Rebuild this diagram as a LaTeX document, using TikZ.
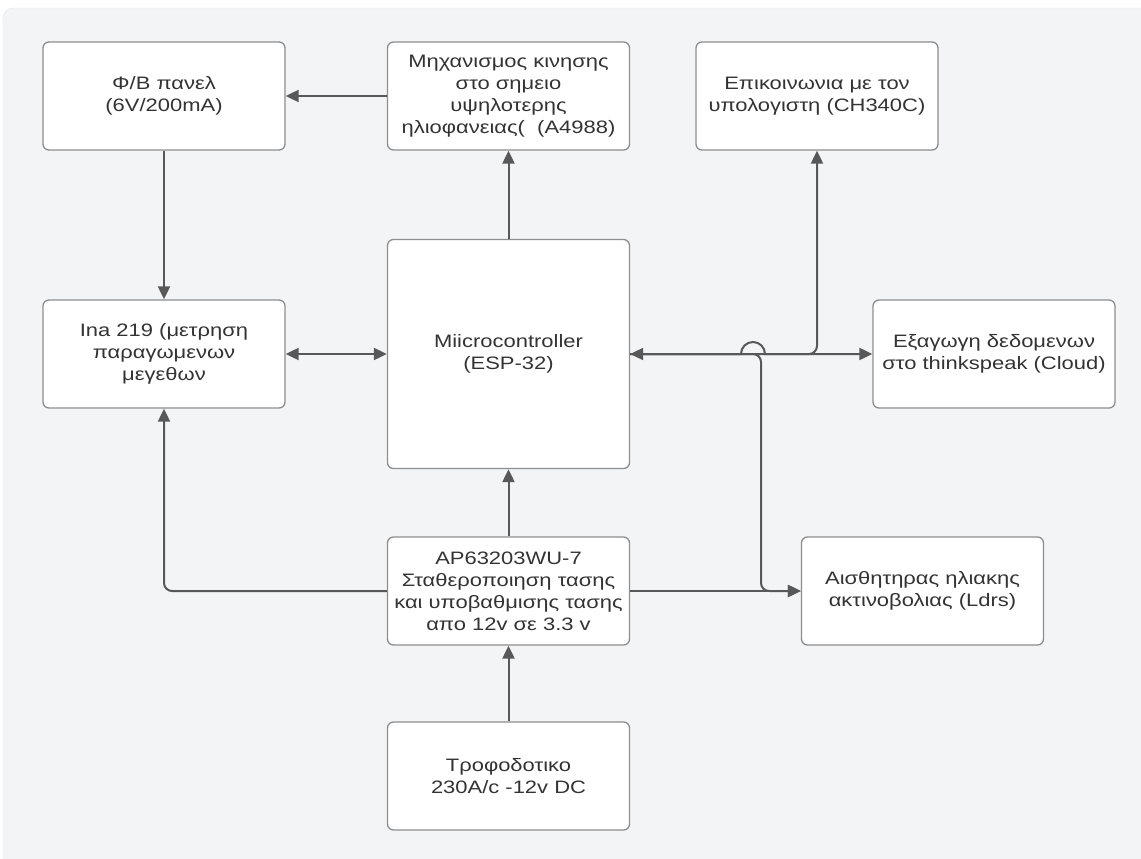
\documentclass[tikz,border=0pt]{standalone}
\usepackage{fontspec}
\setmainfont{Liberation Sans}[FakeStretch=1.22]
\usepackage{tikz}
\usetikzlibrary{arrows.meta,positioning}
\definecolor{panelgray}{HTML}{F3F4F6}
\definecolor{paneledge}{HTML}{E4E5E8}
\definecolor{boxedge}{HTML}{8E8E8E}
\definecolor{wiregray}{HTML}{585858}
\definecolor{textgray}{HTML}{333333}

\begin{document}
\begin{tikzpicture}[x=1pt, y=-1pt, font=\fontsize{18pt}{22pt}\selectfont]
   \clip (0,0) rectangle (1141,859);
   \fill[panelgray, draw=paneledge, rounded corners=10pt] (3,8) rectangle (1180,900);
   \begin{scope}[every node/.style={rectangle, rounded corners=6pt, draw=boxedge, line width=1.3pt,
        fill=white, text=textgray, align=center, minimum width=242pt, minimum height=108pt}]
    \node (pv)     at (164,96)    {Φ/Β πανελ\\(6V/200mA)};
    \node (motor)  at (508.5,96)  {Μηχανισμος κινησης\\στο σημειο\\υψηλοτερης\\ηλιοφανειας(\ \ (A4988)};
    \node (serial) at (817,96)    {Επικοινωνια με τον\\υπολογιστη (CH340C)};
    \node (ina)    at (164,354)   {Ina 219 (μετρηση\\παραγωμενων\\μεγεθων};
    \node (mcu) [minimum height=229pt] at (508.5,354) {Miicrocontroller\\(ESP-32)};
    \node (cloud)  at (994,354)   {Εξαγωγη δεδομενων\\στο thinkspeak (Cloud)};
    \node (buck)   at (508.5,591) {AP63203WU-7\\Σταθεροποιηση τασης\\και υποβαθμισης τασης\\απο 12v σε 3.3 v};
    \node (ldr)    at (922.5,591) {Αισθητηρας ηλιακης\\ακτινοβολιας (Ldrs)};
    \node (psu)    at (508.5,776) {Τροφοδοτικο\\230A/c -12v DC};
   \end{scope}
   \coordinate (hop) at (741,354);
   \coordinate (tap) at (761,591);
   \begin{scope}[draw=wiregray, line width=2pt, >={Triangle[length=13pt,width=12pt]}]
    \draw[->] (motor) -- (pv);
    \draw[->] (pv) -- (ina);
    \draw[<->] (ina) -- (mcu);
    \draw[->] (mcu) -- (motor);
    \draw[->, rounded corners=8pt] (mcu.east) -| (serial.south);
    \draw[->] (mcu.east) -- (hop) arc[start angle=180, end angle=0, radius=12pt] -- (cloud.west);
    \draw[<->, rounded corners=8pt] (mcu.east) -| (tap) -- (ldr.west);

    \draw[->] (buck) -- (mcu);
    \draw[->, rounded corners=8pt] (buck.west) -| (ina.south);
    \draw[->] (buck.east) -- (ldr.west);
    \draw[->] (psu) -- (buck);
   \end{scope}
\end{tikzpicture}
\end{document}
